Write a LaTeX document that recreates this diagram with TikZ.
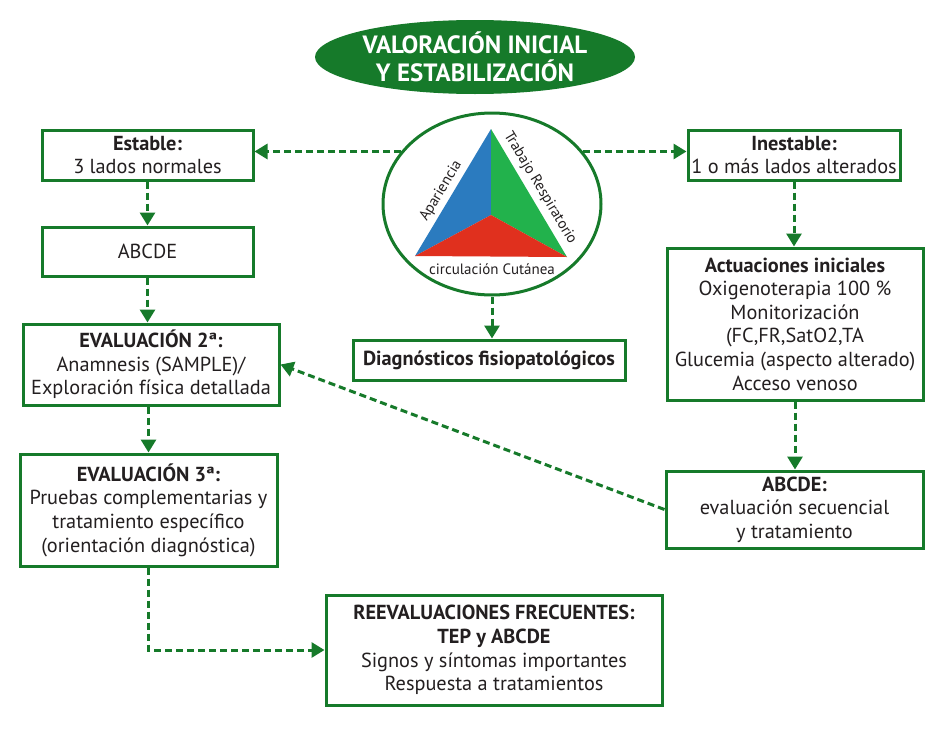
\documentclass[tikz,border=0pt]{standalone}
\usepackage{fontspec}
\setmainfont{PT Sans}
\usetikzlibrary{arrows.meta,shapes.geometric,calc}
\definecolor{gr}{RGB}{22,122,42}
\definecolor{txt}{RGB}{35,31,32}
\definecolor{tblue}{RGB}{43,123,191}
\definecolor{tgreen}{RGB}{34,178,76}
\definecolor{tred}{RGB}{224,48,30}
\tikzset{
  box/.style={draw=gr, line width=3pt, fill=white, align=center, text=txt, inner sep=0pt,
    font=\fontsize{20.3}{23.6}\selectfont},
  arr/.style={gr, line width=3pt, dash pattern=on 7pt off 4pt, -{Triangle[length=13pt,width=15pt]}},
  trilabel/.style={text=txt, inner sep=0pt, font=\fontsize{15}{18}\selectfont},
}
\begin{document}
\begin{tikzpicture}[x=1pt,y=-1pt]
\useasboundingbox (0,0) rectangle (948,747);
\node[ellipse, fill=gr, minimum width=320pt, minimum height=74pt, inner sep=0pt, text=white,
  font=\bfseries\fontsize{25}{27.5}\selectfont, align=center] (title) at (475,57)
  {VALORACIÓN INICIAL\\Y ESTABILIZACIÓN};

\node[box, minimum width=211pt, minimum height=50pt] (estable) at (147.5,155)
  {\textbf{Estable:}\\3 lados normales};
\node[box, minimum width=211pt, minimum height=49pt] (abc1) at (147.5,251.5) {ABCDE};
\node[box, minimum width=256pt, minimum height=81pt] (eval2) at (151,364.5)
  {\textbf{EVALUACIÓN 2ª:}\\Anamnesis (SAMPLE)/\\Exploración física detallada};
\node[box, minimum width=257pt, minimum height=112pt] (eval3) at (148.5,510)
  {\textbf{EVALUACIÓN 3ª:}\\Pruebas complementarias y\\tratamiento específico\\(orientación diagnóstica)};
\node[box, minimum width=336pt, minimum height=110pt] (reeval) at (494,650)
  {\textbf{REEVALUACIONES FRECUENTES:}\\\textbf{TEP y ABCDE}\\Signos y síntomas importantes\\Respuesta a tratamientos};
\node[box, minimum width=272pt, minimum height=40pt] (diag) at (489,360)
  {\textbf{Diagnósticos fisiopatológicos}};
\node[box, minimum width=212pt, minimum height=50pt] (inestable) at (794,155)
  {\textbf{Inestable:}\\1 o más lados alterados};
\node[box, minimum width=256pt, minimum height=152pt] (act) at (795,324)
  {\textbf{Actuaciones iniciales}\\Oxigenoterapia 100 \%\\Monitorización\\(FC,FR,SatO2,TA\\Glucemia (aspecto alterado)\\Acceso venoso};
\node[box, minimum width=257pt, minimum height=77pt] (abc2) at (794.5,509.5)
  {\textbf{ABCDE:}\\evaluación secuencial\\y tratamiento};

\node[ellipse, draw=gr, line width=3pt, fill=white, minimum width=218pt, minimum height=182pt,
  inner sep=0pt] (tri) at (492,204) {};
\coordinate (tA) at (491,129);
\coordinate (tL) at (415,256);
\coordinate (tR) at (567,257);
\coordinate (tC) at (491,215);
\fill[tblue] (tA) -- (tL) -- (tC) -- cycle;
\fill[tgreen] (tA) -- (tC) -- (tR) -- cycle;
\fill[tred] (tL) -- (tC) -- (tR) -- cycle;
\node[trilabel, rotate=59] (lapar) at (441,191) {Apariencia};
\node[trilabel, rotate=-59] (ltrab) at (540,188) {Trabajo Respiratorio};
\node[trilabel] (lcirc) at (492,269) {circulación Cutánea};

\draw[arr] (tri.150) -- (tri.150 -| estable.east);
\draw[arr] (tri.30) -- (tri.30 -| inestable.west);
\draw[arr] (tri.south) -- (tri.south |- diag.north);
\draw[arr] (estable.south) -- (abc1.north);
\draw[arr] (abc1.south) -- (abc1.south |- eval2.north);
\draw[arr] (eval2.south -| eval3.north) -- (eval3.north);
\draw[arr] (eval3.south) |- (reeval.west);
\draw[arr] (inestable.south) -- (inestable.south |- act.north);
\draw[arr] (act.south) -- (act.south |- abc2.north);
\draw[arr] (abc2.west) -- (eval2.east);
\end{tikzpicture}
\end{document}
